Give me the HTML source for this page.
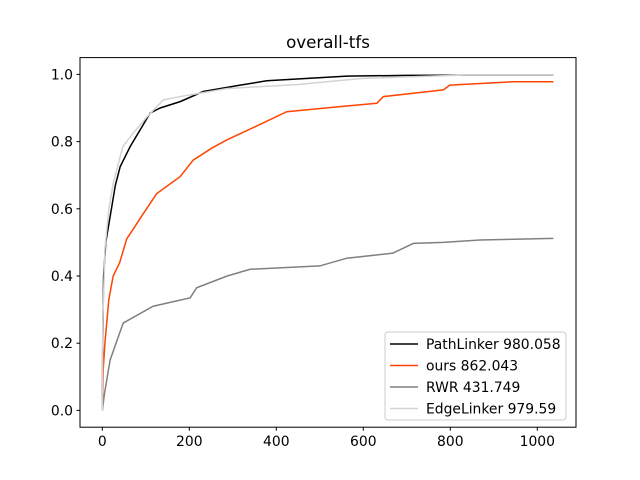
<!DOCTYPE html>
<html><head><meta charset="utf-8"><style>
body{margin:0;background:#fff}
svg{display:block;font-family:"DejaVu Sans","Liberation Sans",sans-serif}
</style></head><body>
<svg id="chart" width="640" height="480">
<rect width="640" height="480" fill="#fff"/>
<text x="328" y="48" font-size="16.7" text-anchor="middle">overall-tfs</text>
<g id="series"></g>
<g id="axes"></g>
<rect x="80" y="57.6" width="496" height="369.6" fill="none" stroke="#000" stroke-width="1"/>
<g id="legend"></g>
</svg>
<script>
const xTicks=[0,200,400,600,800,1000];
const yTicks=[0.0,0.2,0.4,0.6,0.8,1.0];
const seriesNames=["PathLinker 980.058","ours 862.043","RWR 431.749","EdgeLinker 979.59"];
const seriesColors=["#000000","#ff4500","#808080","#d3d3d3"];
const pathlinkerX=[0,1,3,8,18,30,41,64,110,133,179,232,317,378,562,700,850,1037];
const pathlinkerY=[0,0.2,0.4,0.5,0.577,0.67,0.725,0.785,0.885,0.9,0.919,0.949,0.968,0.981,0.995,0.997,0.998,0.998];
const oursX=[0,2,6,15,25,40,56,94,125,179,209,251,286,351,424,546,631,646,784,799,944,1037];
const oursY=[0,0.12,0.2,0.33,0.4,0.44,0.51,0.585,0.645,0.696,0.745,0.78,0.805,0.844,0.889,0.904,0.914,0.934,0.954,0.968,0.978,0.978];
const rwrX=[0,5,18,48,117,202,217,287,340,500,562,668,715,784,868,1037];
const rwrY=[0,0.05,0.15,0.26,0.31,0.335,0.365,0.4,0.42,0.43,0.453,0.468,0.497,0.5,0.507,0.512];
const edgeX=[0,1,6,15,25,47,71,103,140,179,287,450,598,828,1037];
const edgeY=[0,0.25,0.48,0.6,0.675,0.785,0.825,0.874,0.924,0.934,0.958,0.97,0.988,0.998,0.998];
const xs=[pathlinkerX,oursX,rwrX,edgeX], ys=[pathlinkerY,oursY,rwrY,edgeY];
const NS="http://www.w3.org/2000/svg";
function sx(v){return 102.3+v*0.435;}
function sy(v){return 410.4-v*336;}
const axes=document.getElementById('axes');
xTicks.forEach(t=>{
 const l=document.createElementNS(NS,'line');
 l.setAttribute('x1',sx(t));l.setAttribute('x2',sx(t));l.setAttribute('y1',427.2);l.setAttribute('y2',430.7);l.setAttribute('stroke','#000');
 
 
 axes.appendChild(l);
 const tx=document.createElementNS(NS,'text');
 tx.setAttribute('x',sx(t));tx.setAttribute('y',446);tx.setAttribute('font-size','13.9');tx.setAttribute('text-anchor','middle');
 tx.textContent=t;
 
 
 axes.appendChild(tx);
});
yTicks.forEach(t=>{
 const l=document.createElementNS(NS,'line');
 l.setAttribute('x1',76.5);l.setAttribute('x2',80);l.setAttribute('y1',sy(t));l.setAttribute('y2',sy(t));l.setAttribute('stroke','#000');
 
 
 axes.appendChild(l);
 const tx=document.createElementNS(NS,'text');
 tx.setAttribute('x',73);tx.setAttribute('y',sy(t)+5);tx.setAttribute('font-size','13.9');tx.setAttribute('text-anchor','end');
 tx.textContent=t.toFixed(1);
 
 
 axes.appendChild(tx);
});
const sg=document.getElementById('series');
[0,1,2,3].forEach(i=>{
 let d='';
 xs[i].forEach((x,j)=>{
  d+=(j===0?'M':' L')+sx(x)+','+sy(ys[i][j]);
 });
 const p=document.createElementNS(NS,'path');
 p.setAttribute('d',d);p.setAttribute('fill','none');p.setAttribute('stroke',seriesColors[i]);p.setAttribute('stroke-width','1.5');
 
 
 sg.appendChild(p);
});
const lg=document.getElementById('legend');
const box=document.createElementNS(NS,'rect');
box.setAttribute('x',385);box.setAttribute('y',332);box.setAttribute('width',181);box.setAttribute('height',88);box.setAttribute('rx',3);
box.setAttribute('fill','#fff');box.setAttribute('fill-opacity','0.8');box.setAttribute('stroke','#ccc');


lg.appendChild(box);
seriesNames.forEach((n,i)=>{
 const y=344+i*21.5;
 const l=document.createElementNS(NS,'line');
 l.setAttribute('x1',390);l.setAttribute('x2',418);l.setAttribute('y1',y);l.setAttribute('y2',y);l.setAttribute('stroke',seriesColors[i]);l.setAttribute('stroke-width','1.5');
 
 
 lg.appendChild(l);
 const t=document.createElementNS(NS,'text');
 t.setAttribute('x',426);t.setAttribute('y',y+5);t.setAttribute('font-size','13.9');
 t.textContent=n;
 
 
 lg.appendChild(t);
});
</script>
</body></html>
